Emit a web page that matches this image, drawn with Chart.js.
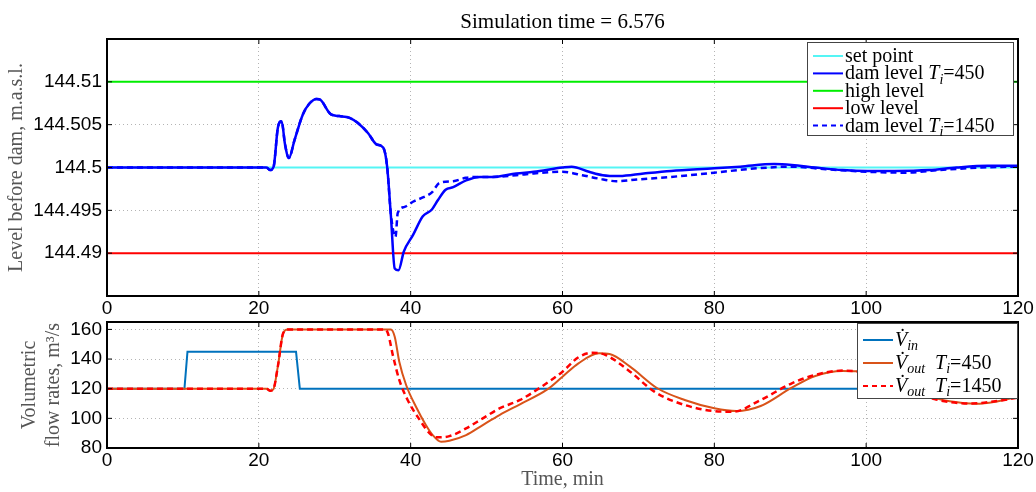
<!DOCTYPE html>
<html>
<head>
<meta charset="utf-8">
<script src="https://cdn.jsdelivr.net/npm/chart.js@4.4.1/dist/chart.umd.min.js"></script>
<style>
  html, body { margin: 0; padding: 0; background: #fff; }
  #wrap { position: relative; width: 1036px; height: 492px; }
  #levelBox { position: absolute; left: 0; top: 0; width: 1036px; height: 320px; }
  #flowBox { position: absolute; left: 0; top: 300px; width: 1036px; height: 192px; }
</style>
</head>
<body>
<div id="wrap">
  <div id="levelBox"><canvas id="levelChart"></canvas></div>
  <div id="flowBox"><canvas id="flowChart"></canvas></div>
</div>
<script>
// axis ticks
const timeTicks = [0, 20, 40, 60, 80, 100, 120];
const levelTicks = [144.49, 144.495, 144.5, 144.505, 144.51];
const flowTicks = [80, 100, 120, 140, 160];

// reference levels
const setPoint = 144.5;
const highLevel = 144.51;
const lowLevel = 144.49;

// dam level, Ti = 450
const timeLevel450 = [0, 21, 21.5, 21.95, 22.5, 23.0, 23.45, 23.96, 24.7, 25.8,
  26.7, 27.6, 28.1, 29.5, 30.6, 31.95, 33.05, 34.4, 35.5, 36.4,
  36.9, 37.4, 37.9, 38.4, 39.1, 40.3, 41.6, 42.8, 43.6, 44.6,
  45.6, 47.3, 49.1, 50.8, 53.9, 56.2, 60, 61.2, 63.5, 65.3,
  67.5, 70.7, 74.3, 80, 83.4, 87.9, 90.2, 93.3, 96.9, 100.2,
  103.7, 108.3, 111.9, 116, 120];
const level450 = [144.5, 144.5, 144.4997, 144.5001, 144.5046, 144.5054, 144.5027, 144.5011, 144.5032, 144.5062,
  144.5075, 144.508, 144.5079, 144.5062, 144.506, 144.5058, 144.5052, 144.504, 144.5027, 144.5023,
  144.5001, 144.4943, 144.4882, 144.488, 144.4902, 144.4921, 144.4943, 144.4951, 144.4962, 144.4974,
  144.4977, 144.4985, 144.4989, 144.4989, 144.4993, 144.4995, 144.5, 144.5001, 144.4995, 144.4991,
  144.499, 144.4993, 144.4996, 144.4999, 144.5001, 144.5004, 144.5003, 144.5, 144.4997, 144.4996,
  144.4996, 144.4997, 144.5, 144.5002, 144.5002];

// dam level, Ti = 1450
const timeLevel1450 = [0, 21, 21.5, 21.95, 22.5, 23.0, 23.45, 23.96, 24.7, 25.8,
  26.7, 27.6, 28.1, 29.5, 30.6, 31.95, 33.05, 34.4, 35.5, 36.4,
  36.9, 37.4, 38.0, 38.3, 39.2, 40.3, 41.6, 42.8, 43.8, 45.6,
  47.3, 49.1, 50.8, 53.9, 56.2, 60, 62.6, 64.8, 67.1, 69.8,
  74.3, 80, 85.6, 90.2, 94.7, 100.2, 105.1, 109.7, 115.1, 120];
const level1450 = [144.5, 144.5, 144.4997, 144.5001, 144.5046, 144.5054, 144.5027, 144.5011, 144.5032, 144.5062,
  144.5075, 144.508, 144.5079, 144.5062, 144.506, 144.5058, 144.5052, 144.504, 144.5027, 144.5023,
  144.5001, 144.4945, 144.4919, 144.4947, 144.4954, 144.496, 144.4965, 144.4971, 144.4982, 144.4984,
  144.4988, 144.4989, 144.4989, 144.4991, 144.4993, 144.4995, 144.4991, 144.4987, 144.4984, 144.4986,
  144.4989, 144.4994, 144.4999, 144.5001, 144.4998, 144.4995, 144.4994, 144.4997, 144.5, 144.5001];

// inflow
const timeInflow = [0, 10.2, 10.6, 24.9, 25.4, 120];
const inflow = [120, 120, 145, 145, 120, 120];

// outflow, Ti = 450
const timeOut450 = [0, 21, 21.5, 21.9, 22.5, 23.2, 23.8, 37.4, 37.9, 38.5,
  39.4, 40.7, 42, 42.9, 44, 45.1, 47.3, 49.5, 51.7, 54.4,
  58, 60, 62.1, 64.8, 66.2, 68.9, 72.5, 76.1, 80, 82.9,
  86.1, 90.2, 93.3, 96.9, 98.8, 101, 103, 105, 107, 109.2,
  111, 114.5, 117, 120];
const out450 = [120, 120, 118.7, 119.5, 134.9, 157.4, 160, 160, 155.1, 138.2,
  122.5, 107.8, 95.5, 88.7, 84.2, 84.9, 88.7, 95.5, 102.2, 109.5,
  119.5, 128.1, 137.1, 143.9, 143.4, 134.9, 120.3, 112.4, 106.8, 104.9,
  108.3, 120.7, 128.6, 132, 131.8, 130, 127, 122.5, 118, 113.5,
  111.5, 109.8, 111.2, 114.6];

// outflow, Ti = 1450
const timeOut1450 = [0, 21, 21.5, 21.9, 22.5, 23.2, 23.8, 36.6, 37.0, 37.7,
  38.5, 39.6, 41.2, 42.5, 43.4, 45.1, 47.3, 49.5, 51.7, 54.4,
  57.1, 60, 62.1, 63.9, 65.7, 68.9, 72.1, 76.1, 80, 82.5,
  86.1, 90.2, 93.3, 96.9, 99, 101, 103, 105, 107, 109,
  111, 114, 117, 120];
const out1450 = [120, 120, 118.7, 119.5, 134.9, 157.4, 160, 160, 157.4, 141.6,
  125.9, 112.4, 98.9, 89.9, 87.2, 88.0, 93.2, 100, 106.7, 112.4,
  120.9, 131.5, 141.2, 144.3, 142.7, 131.5, 118, 109, 104.9, 104.5,
  112.4, 123.6, 129.3, 132.2, 131.5, 129, 125.5, 121, 116.5, 113,
  111, 110, 111.5, 114];

const pts = (xs, ys) => xs.map((x, i) => ({ x: x, y: ys[i] }));

const SERIF = '"Liberation Serif", "DejaVu Serif", serif';
const SANS = '"Liberation Sans", Arial, sans-serif';

// draws text pieces, some italic / subscript
function drawRich(ctx, parts, x, y, size) {
  ctx.fillStyle = '#000';
  ctx.textAlign = 'left';
  ctx.textBaseline = 'alphabetic';
  parts.forEach(p => {
    const s = p.sub ? size * 0.7 : size;
    ctx.font = (p.it ? 'italic ' : '') + s + 'px ' + SERIF;
    ctx.fillText(p.t, x, y + (p.sub ? size * 0.22 : 0));
    x += ctx.measureText(p.t).width;
  });
}

// legend box inside the plot, top-right corner
function boxLegend(items, box) {
  return {
    id: 'boxLegend',
    afterDraw(chart) {
      const { ctx, chartArea: a } = chart;
      const x0 = a.right - box.right - box.width;
      const y0 = a.top + box.top;
      ctx.save();
      ctx.fillStyle = '#fff';
      ctx.fillRect(x0, y0, box.width, box.height);
      ctx.strokeStyle = '#444';
      ctx.lineWidth = 1;
      ctx.strokeRect(x0 + 0.5, y0 + 0.5, box.width, box.height);
      items.forEach((it, i) => {
        const y = y0 + box.first + i * box.step;
        ctx.beginPath();
        ctx.setLineDash(it.dash || []);
        ctx.strokeStyle = it.color;
        ctx.lineWidth = 2;
        ctx.moveTo(x0 + 6, y);
        ctx.lineTo(x0 + 36, y);
        ctx.stroke();
        ctx.setLineDash([]);
        drawRich(ctx, it.parts, x0 + 38, y + 6, 20);
      });
      ctx.restore();
    }
  };
}

// black box round the plot with small inward ticks
const framePlugin = {
  id: 'frame',
  afterDatasetsDraw(chart) {
    const { ctx, chartArea: a, scales } = chart;
    ctx.save();
    ctx.strokeStyle = '#000';
    ctx.lineWidth = 1;
    ctx.beginPath();
    scales.x.ticks.forEach(t => {
      const px = scales.x.getPixelForValue(t.value);
      ctx.moveTo(px, a.top); ctx.lineTo(px, a.top + 5);
      ctx.moveTo(px, a.bottom); ctx.lineTo(px, a.bottom - 5);
    });
    scales.y.ticks.forEach(t => {
      const py = scales.y.getPixelForValue(t.value);
      ctx.moveTo(a.left, py); ctx.lineTo(a.left + 5, py);
      ctx.moveTo(a.right, py); ctx.lineTo(a.right - 5, py);
    });
    ctx.stroke();
    ctx.lineWidth = 2;
    ctx.strokeRect(a.left, a.top, a.right - a.left, a.bottom - a.top);
    ctx.restore();
  }
};

const titlePlugin = {
  id: 'simTitle',
  afterDraw(chart) {
    const { ctx, chartArea: a } = chart;
    ctx.save();
    ctx.font = '21px ' + SERIF;
    ctx.fillStyle = '#000';
    ctx.textAlign = 'center';
    ctx.textBaseline = 'alphabetic';
    ctx.fillText('Simulation time = 6.576', (a.left + a.right) / 2, 28);
    ctx.restore();
  }
};

function xAxis(height) {
  return {
    type: 'linear', min: 0, max: 120,
    afterBuildTicks: s => { s.ticks = timeTicks.map(v => ({ value: v })); },
    afterFit: s => { s.height = height; },
    grid: { color: '#b4b4b4', lineWidth: 1, drawTicks: false },
    border: { display: false, dash: [1, 3] },
    ticks: { color: '#000', font: { family: SANS, size: 19 }, padding: 1, maxRotation: 0, autoSkip: false, callback: v => String(v) }
  };
}

function yAxis(min, max, ticks, title, titlePad) {
  return {
    min: min, max: max,
    afterBuildTicks: s => { s.ticks = ticks.map(v => ({ value: v })); },
    afterFit: s => { s.width = 107; },
    grid: { color: '#b4b4b4', lineWidth: 1, drawTicks: false },
    border: { display: false, dash: [1, 3] },
    ticks: { color: '#000', font: { family: SANS, size: 19 }, padding: 5, autoSkip: false, callback: v => String(v) },
    title: { display: true, text: title, color: '#555', font: { family: SERIF, size: 20 }, padding: { top: titlePad, bottom: 0 } }
  };
}

const common = {
  responsive: true,
  maintainAspectRatio: false,
  animation: false,
  plugins: { legend: { display: false }, tooltip: { enabled: false } },
  elements: { point: { radius: 0 } }
};

// upper plot
new Chart(document.getElementById('levelChart'), {
  type: 'line',
  data: {
    datasets: [
      { data: pts(timeLevel450, level450), borderColor: '#0000ff', borderWidth: 2.5, cubicInterpolationMode: 'monotone', order: 0 },
      { data: pts(timeLevel1450, level1450), borderColor: '#0000ff', borderWidth: 2.5, borderDash: [6, 4], cubicInterpolationMode: 'monotone', order: 1 },
      { data: pts([0, 120], [highLevel, highLevel]), borderColor: '#00ee00', borderWidth: 2, order: 2 },
      { data: pts([0, 120], [lowLevel, lowLevel]), borderColor: '#ff0000', borderWidth: 2, order: 3 },
      { data: pts([0, 120], [setPoint, setPoint]), borderColor: '#55f5f5', borderWidth: 2, order: 4 }
    ]
  },
  options: Object.assign({}, common, {
    layout: { padding: { left: 0, right: 18, top: 39, bottom: 0 } },
    scales: {
      x: xAxis(24),
      y: yAxis(144.485, 144.515, levelTicks, 'Level before dam, m.a.s.l.', 5)
    }
  }),
  plugins: [framePlugin, titlePlugin, boxLegend([
    { color: '#55f5f5', parts: [{ t: 'set point' }] },
    { color: '#0000ff', parts: [{ t: 'dam level ' }, { t: 'T', it: true }, { t: 'i', it: true, sub: true }, { t: '=450' }] },
    { color: '#00ee00', parts: [{ t: 'high level' }] },
    { color: '#ff0000', parts: [{ t: 'low level' }] },
    { color: '#0000ff', dash: [5, 4], parts: [{ t: 'dam level ' }, { t: 'T', it: true }, { t: 'i', it: true, sub: true }, { t: '=1450' }] }
  ], { right: 5, top: 3, width: 206, height: 93, first: 14, step: 17.4 })]
});

// lower plot
new Chart(document.getElementById('flowChart'), {
  type: 'line',
  data: {
    datasets: [
      { data: pts(timeOut1450, out1450), borderColor: '#ff0000', borderWidth: 2.5, borderDash: [6, 4], cubicInterpolationMode: 'monotone', order: 0 },
      { data: pts(timeOut450, out450), borderColor: '#d95319', borderWidth: 2, cubicInterpolationMode: 'monotone', order: 1 },
      { data: pts(timeInflow, inflow), borderColor: '#0072bd', borderWidth: 2, order: 2 }
    ]
  },
  options: Object.assign({}, common, {
    layout: { padding: { left: 0, right: 18, top: 22, bottom: 0 } },
    scales: {
      x: Object.assign(xAxis(44), {
        title: { display: true, text: 'Time, min', color: '#555', font: { family: SERIF, size: 20 }, padding: { top: 0, bottom: 0 } }
      }),
      y: yAxis(80, 165, flowTicks, ['Volumetric', 'flow rates, m\u00B3/s'], 18)
    }
  }),
  plugins: [framePlugin, boxLegend([
    { color: '#0072bd', parts: [{ t: 'V\u0307', it: true }, { t: 'in', it: true, sub: true }] },
    { color: '#d95319', parts: [{ t: 'V\u0307', it: true }, { t: 'out', it: true, sub: true }, { t: '  ' }, { t: 'T', it: true }, { t: 'i', it: true, sub: true }, { t: '=450' }] },
    { color: '#ff0000', dash: [5, 4], parts: [{ t: 'V\u0307', it: true }, { t: 'out', it: true, sub: true }, { t: '  ' }, { t: 'T', it: true }, { t: 'i', it: true, sub: true }, { t: '=1450' }] }
  ], { right: 1, top: 1, width: 160, height: 75, first: 17, step: 23 })]
});
</script>
</body>
</html>
